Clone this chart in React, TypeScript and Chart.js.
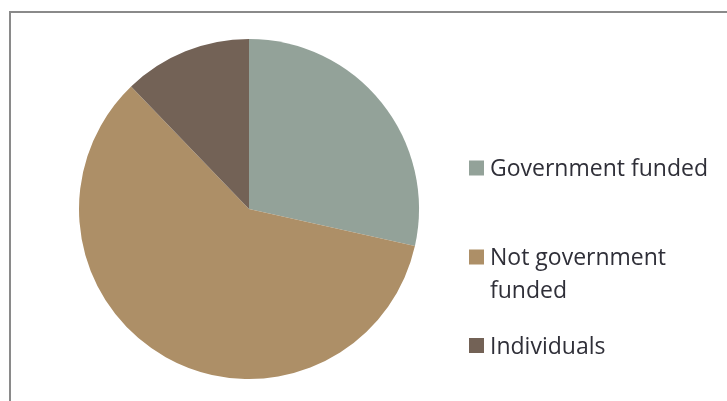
import React, { useEffect, useRef } from "react";
import { Chart, registerables } from "chart.js";

Chart.register(...registerables);

const categories = ["Government funded", "Not government funded", "Individuals"];
const shares = [28.5, 59.3, 12.2];
const colors = ["#93A299", "#AD8F67", "#736256"];

const W = 727;
const H = 401;

const frameAndLegend = {
  id: "frameAndLegend",
  afterDraw(chart: any) {
    const ctx = chart.ctx;
    ctx.save();
    // frame
    ctx.strokeStyle = "#8a8a8a";
    ctx.lineWidth = 2;
    ctx.beginPath();
    ctx.moveTo(10, H + 5);
    ctx.lineTo(10, 12);
    ctx.lineTo(W + 5, 12);
    ctx.stroke();

    // legend
    const labels: string[] = chart.data.labels;
    const bg: string[] = chart.data.datasets[0].backgroundColor;
    const rowCenters = [168, 257, 345.5];
    const lineH = 33;
    const maxW = 235;
    ctx.font = "23px 'Open Sans'";
    ctx.textBaseline = "alphabetic";
    ctx.textAlign = "left";
    labels.forEach((lab, i) => {
      const cy = rowCenters[i];
      ctx.fillStyle = bg[i];
      ctx.fillRect(469, cy - 7.5, 15, 15);
      // wrap
      const words = lab.split(" ");
      const lines: string[] = [];
      let cur = "";
      words.forEach((w) => {
        const t = cur ? cur + " " + w : w;
        if (ctx.measureText(t).width > maxW && cur) {
          lines.push(cur);
          cur = w;
        } else cur = t;
      });
      if (cur) lines.push(cur);
      ctx.fillStyle = "#2f2f38";
      lines.forEach((ln, j) => {
        ctx.fillText(ln, 490, cy + 8 + j * lineH);
      });
    });
    ctx.restore();
  },
};

export default function App() {
  const ref = useRef<HTMLCanvasElement | null>(null);
  useEffect(() => {
    if (!ref.current) return;
    const chart = new Chart(ref.current, {
      type: "pie",
      data: {
        labels: categories,
        datasets: [
          {
            data: shares,
            backgroundColor: colors,
            borderWidth: 0,
          },
        ],
      },
      options: {
        animation: false,
        responsive: false,
        devicePixelRatio: 1,
        layout: { padding: { left: 79, right: W - 419, top: 39, bottom: H - 379 } },
        plugins: {
          legend: { display: false },
          tooltip: { enabled: false },
        },
      },
      plugins: [frameAndLegend],
    });
    return () => chart.destroy();
  }, []);
  return (
    <div style={{ position: "fixed", left: 0, top: 0, width: W, height: H, background: "#fff" }}>
      <canvas ref={ref} width={W} height={H} style={{ width: W, height: H, display: "block" }} />
    </div>
  );
}
